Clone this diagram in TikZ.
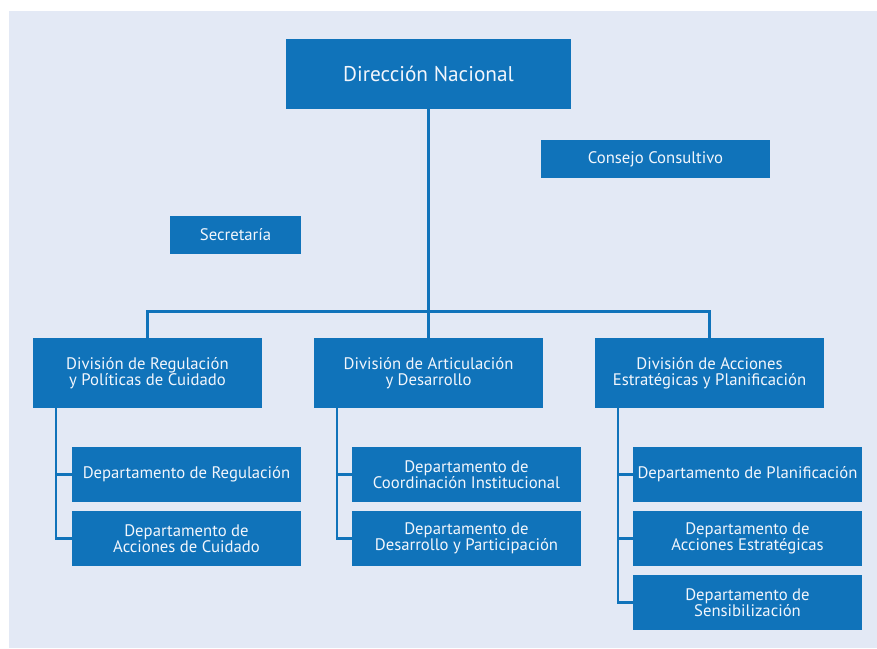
\documentclass[tikz,border=0pt]{standalone}
\usepackage{fontspec}
\setmainfont{PT Sans}
\definecolor{boxblue}{HTML}{1073BA}
\definecolor{pagebg}{HTML}{E3E9F5}
\definecolor{boxtext}{HTML}{F2F6FC}
\begin{document}
\begin{tikzpicture}[x=1pt,y=-1pt,
  unit/.style={fill=boxblue, text=boxtext, inner sep=0pt, align=center,
    font=\fontsize{16.7}{15.8}\selectfont},
  headbox/.style={unit, minimum width=285pt, minimum height=70pt,
    font=\fontsize{21.3}{21.3}\selectfont},
  sidebox/.style={unit, minimum height=38pt},
  divbox/.style={unit, minimum width=229pt, minimum height=70pt},
  deptbox/.style={unit, minimum width=229pt, minimum height=55pt},
  link/.style={draw=boxblue, line width=2.2pt}]
% page and panel
\fill[white] (0,0) rectangle (877,648);
\fill[pagebg] (9,11) rectangle (877,648);
\useasboundingbox (0,0) rectangle (877,648);

% top level
\node[headbox] (dn) at (428.5,74) {Dirección Nacional};
\node[sidebox, minimum width=229pt] (cc) at (655.5,159) {Consejo Consultivo};
\node[sidebox, minimum width=131pt] (sec) at (235.5,235) {Secretaría};

% divisions
\node[divbox] (d1) at (147.5,373) {División de Regulación\\y Políticas de Cuidado};
\node[divbox] (d2) at (428.5,373) {División de Articulación\\y Desarrollo};
\node[divbox] (d3) at (709.5,373) {División de Acciones\\Estratégicas y Planificación};

% departments
\node[deptbox] (a1) at (186.5,474.5) {Departamento de Regulación};
\node[deptbox] (a2) at (186.5,538.5) {Departamento de\\Acciones de Cuidado};
\node[deptbox] (b1) at (466.5,474.5) {Departamento de\\Coordinación Institucional};
\node[deptbox] (b2) at (466.5,538.5) {Departamento de\\Desarrollo y Participación};
\node[deptbox] (c1) at (747.5,474.5) {Departamento de Planificación};
\node[deptbox] (c2) at (747.5,538.5) {Departamento de\\Acciones Estratégicas};
\node[deptbox] (c3) at (747.5,602.5) {Departamento de\\Sensibilización};

% bus line joining the divisions
\coordinate (bus) at (428.5,311.5);
\draw[link] (dn.south) -- (d2.north);
\draw[link] (d1.north) |- (bus) -| (d3.north);

% department trunks
\coordinate (t1) at ([xshift=23.5pt]d1.south west);
\coordinate (t2) at ([xshift=23.5pt]d2.south west);
\coordinate (t3) at ([xshift=23.5pt]d3.south west);
\draw[link] (t1) |- (a2.west);
\draw[link] (t1 |- a1.west) -- (a1.west);
\draw[link] (t2) |- (b2.west);
\draw[link] (t2 |- b1.west) -- (b1.west);
\draw[link] (t3) |- (c3.west);
\draw[link] (t3 |- c1.west) -- (c1.west);
\draw[link] (t3 |- c2.west) -- (c2.west);
\end{tikzpicture}
\end{document}
